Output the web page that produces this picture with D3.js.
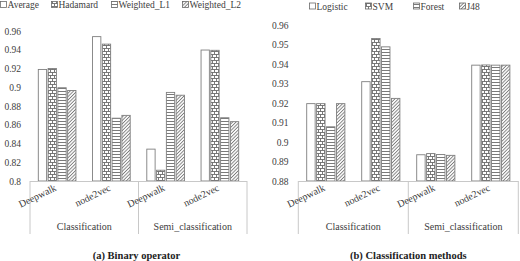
<!DOCTYPE html>
<html><head><meta charset="utf-8">
<script src="https://cdn.jsdelivr.net/npm/d3@7"></script>
<style>body{margin:0;background:#fff}svg{display:block}</style>
</head><body><svg id="c" width="520" height="261" font-family="'Liberation Serif', 'DejaVu Serif', serif"></svg>
<script>
// ---- data ----
const groups = ["Classification","Semi_classification"];
const subcats = ["Deepwalk","node2vec"];
const seriesA = ["Average","Hadamard","Weighted_L1","Weighted_L2"];
const valuesA = [ // per category (group/subcat), per series
  [0.919,0.920,0.8995,0.8965],
  [0.954,0.946,0.867,0.870],
  [0.834,0.8115,0.8945,0.8915],
  [0.9397,0.9394,0.8675,0.8633]
];
const ticksA = [0.8,0.82,0.84,0.86,0.88,0.9,0.92,0.94,0.96];
const seriesB = ["Logistic","SVM","Forest","J48"];
const valuesB = [
  [0.9198,0.9198,0.9079,0.9198],
  [0.9311,0.9533,0.949,0.9225],
  [0.8935,0.8941,0.8936,0.8932],
  [0.9396,0.9397,0.9396,0.9396]
];
const ticksB = [0.88,0.89,0.9,0.91,0.92,0.93,0.94,0.95,0.96];
const captionA = "(a) Binary operator";
const captionB = "(b) Classification methods";

const FONT = "'Liberation Serif', 'DejaVu Serif', serif";
const svg = d3.select("#c");
const defs = svg.append("defs");
// patterns
const pBrick = defs.append("pattern").attr("id","brick").attr("patternUnits","userSpaceOnUse").attr("width",4).attr("height",6);
pBrick.append("rect").attr("width",4).attr("height",6).attr("fill","#fff");
pBrick.append("path").attr("d","M0,0.5H4M0,3.5H4M0.5,0.5V3.5M2.5,3.5V6.5").attr("stroke","#6a6a6a").attr("stroke-width",0.9).attr("fill","none");
const pHor = defs.append("pattern").attr("id","hor").attr("patternUnits","userSpaceOnUse").attr("width",4).attr("height",3);
pHor.append("rect").attr("width",4).attr("height",3).attr("fill","#fff");
pHor.append("path").attr("d","M0,1.5H4").attr("stroke","#7a7a7a").attr("stroke-width",1).attr("fill","none");
const pDia = defs.append("pattern").attr("id","dia").attr("patternUnits","userSpaceOnUse").attr("width",2.4).attr("height",2.4).attr("patternTransform","rotate(45)");
pDia.append("rect").attr("width",2.4).attr("height",2.4).attr("fill","#fff");
pDia.append("path").attr("d","M1.2,0V2.4").attr("stroke","#7a7a7a").attr("stroke-width",0.9);
const fills = ["#fff","url(#brick)","url(#hor)","url(#dia)"];

function txt(sel){ return sel.attr("font-family",FONT).style("font-family",FONT).attr("fill","#404040"); }

function chart(cfg){
  const cats = [];
  groups.forEach(g=>subcats.forEach(s=>cats.push(g+"|"+s)));
  const x0 = d3.scaleBand().domain(cats).range([cfg.x0,cfg.x1]);
  const bw = x0.bandwidth();
  const x1 = d3.scaleBand().domain(cfg.series).range([bw*0.153,bw*0.847]).paddingInner(0.15);
  const y = d3.scaleLinear().domain(cfg.domain).range([181,cfg.top]);
  const g = svg.append("g");
  cats.forEach((c,ci)=>{
    cfg.series.forEach((s,si)=>{
      const v = cfg.values[ci][si];
      g.append("rect").attr("x",x0(c)+x1(s)).attr("width",x1.bandwidth())
        .attr("y",y(v)).attr("height",y(cfg.domain[0])-y(v))
        .attr("fill",fills[si]).attr("stroke","#7f7f7f").attr("stroke-width",0.9);
    });
  });
  const ya = d3.axisLeft(y).tickValues(cfg.ticks).tickSize(0).tickPadding(0).tickFormat(d=>String(+d.toFixed(2)));
  const yg = g.append("g").attr("transform",`translate(${cfg.tickX},0)`).call(ya);
  yg.attr("font-family",FONT);
  yg.select(".domain").remove();
  txt(yg.selectAll("text")).style("font-size","9.5px");
  g.append("line").attr("x1",cfg.x0).attr("x2",cfg.x1).attr("y1",181.5).attr("y2",181.5).attr("stroke","#c8c8c8");
  const gx = d3.scaleBand().domain(groups).range([cfg.x0,cfg.x1]);
  [cfg.x0, gx(groups[1]), cfg.x1].forEach(xx=>{
    g.append("line").attr("x1",xx).attr("x2",xx).attr("y1",181).attr("y2",234).attr("stroke","#c8c8c8");
  });
  cats.forEach(c=>{
    const cx = x0(c)+bw/2;
    txt(g.append("text")).attr("transform",`translate(${cx},${190}) rotate(-26)`)
      .attr("text-anchor","end").style("font-size","10px").text(c.split("|")[1]);
  });
  groups.forEach(gr=>{
    txt(g.append("text")).attr("x",gx(gr)+gx.bandwidth()/2).attr("y",230).attr("text-anchor","middle")
      .style("font-size","10px").text(gr);
  });
  cfg.series.forEach((s,si)=>{
    const lx = cfg.legX[si];
    g.append("rect").attr("x",lx+0.5).attr("y",cfg.legY-3.5).attr("width",6).attr("height",6)
      .attr("fill",fills[si]).attr("stroke","#6a6a6a").attr("stroke-width",0.8);
    txt(g.append("text")).attr("x",lx+7.5).attr("y",cfg.legY+3.2).style("font-size","9.5px").text(s);
  });
  txt(g.append("text")).attr("x",cfg.capX).attr("y",258.5).attr("text-anchor","middle")
    .style("font-size","10.5px").style("font-weight","bold").attr("fill","#222").text(cfg.caption);
}

chart({x0:30,x1:247,top:31,domain:[0.8,0.96],series:seriesA,values:valuesA,ticks:ticksA,tickX:21,
  legX:[0,51,111,182],legY:5,capX:136.5,caption:captionA});
chart({x0:298.3,x1:518.3,top:25.5,domain:[0.88,0.96],series:seriesB,values:valuesB,ticks:ticksB,tickX:288.5,
  legX:[309,365,413,459],legY:6.5,capX:408.3,caption:captionB});
</script></body></html>
